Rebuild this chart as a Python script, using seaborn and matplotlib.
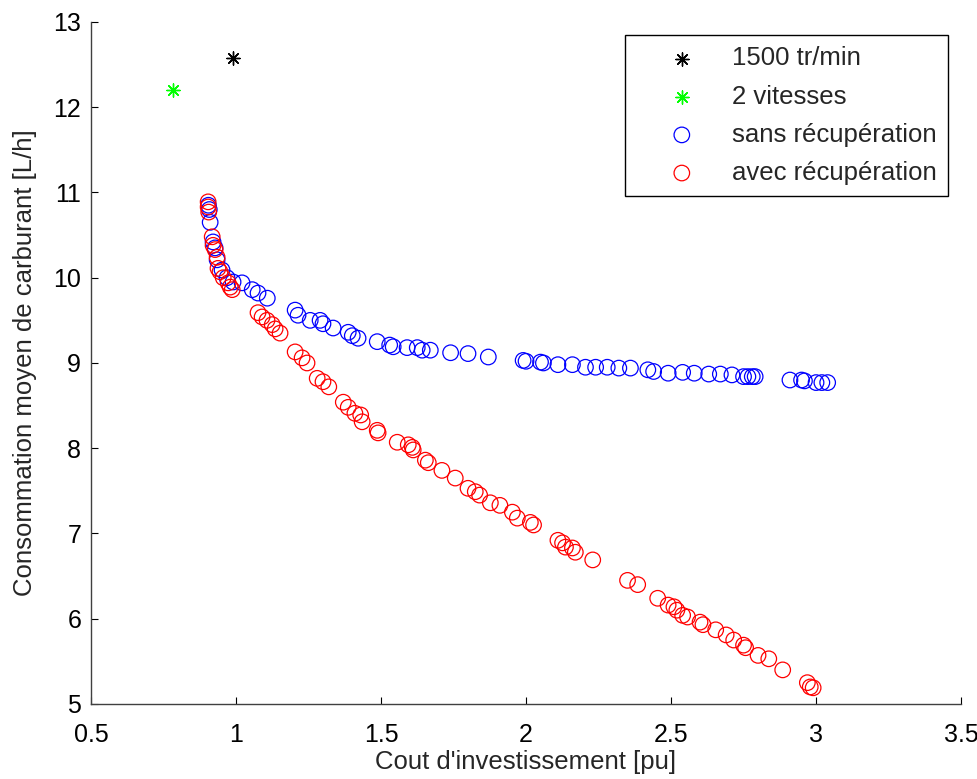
import numpy as np
import pandas as pd
import seaborn as sns
import matplotlib
matplotlib.use("Agg")
import matplotlib.pyplot as plt

# points isoles
ref_x = [0.99]
ref_y = [12.58]
deux_x = [0.783]
deux_y = [12.20]

# sans recuperation (bleu)
sans_x = [0.905, 0.908, 0.911, 0.921, 0.928, 0.935, 0.952, 0.969, 0.990, 1.021, 1.056, 1.076, 1.108,
          1.204, 1.214, 1.256, 1.290, 1.300, 1.335, 1.387, 1.401, 1.421, 1.487, 1.530, 1.542, 1.590,
          1.625, 1.642, 1.670, 1.740, 1.800, 1.870, 1.990,
          2.000, 2.050, 2.060, 2.110, 2.160, 2.205, 2.240, 2.280, 2.320, 2.360, 2.420, 2.440, 2.490,
          2.540, 2.580, 2.630, 2.670, 2.710, 2.750, 2.765, 2.780, 2.790, 2.910, 2.950, 2.960, 3.000,
          3.020, 3.040]
sans_y = [10.85, 10.80, 10.65, 10.42, 10.35, 10.21, 10.09, 10.00, 9.95, 9.94, 9.86, 9.82, 9.76,
          9.62, 9.56, 9.50, 9.50, 9.46, 9.41, 9.36, 9.32, 9.29, 9.25, 9.21, 9.19, 9.18,
          9.18, 9.15, 9.15, 9.12, 9.11, 9.07, 9.03,
          9.02, 9.01, 9.00, 8.98, 8.98, 8.95, 8.95, 8.95, 8.94, 8.94, 8.92, 8.90, 8.88,
          8.89, 8.88, 8.87, 8.87, 8.86, 8.84, 8.84, 8.84, 8.84, 8.80, 8.80, 8.79, 8.77,
          8.77, 8.77]

# avec recuperation (rouge)
avec_x = [0.904, 0.904, 0.906, 0.918, 0.921, 0.928, 0.935, 0.938, 0.945, 0.956, 0.973, 0.980, 0.987,
          1.076, 1.090, 1.107, 1.125, 1.135, 1.152,
          1.204, 1.228, 1.245, 1.280, 1.300, 1.320, 1.370, 1.387, 1.410, 1.430, 1.435, 1.487, 1.490,
          1.556, 1.594, 1.608, 1.611, 1.653, 1.663, 1.710, 1.756, 1.800, 1.825, 1.840, 1.877, 1.910,
          1.953, 1.970, 2.015, 2.026, 2.110, 2.126, 2.136, 2.160, 2.170, 2.230, 2.350, 2.385, 2.454,
          2.490, 2.510, 2.520, 2.540, 2.557, 2.600, 2.610, 2.654, 2.690, 2.716, 2.750, 2.757, 2.800,
          2.837, 2.885, 2.970, 2.980, 2.990]
avec_y = [10.89, 10.83, 10.77, 10.48, 10.38, 10.33, 10.24, 10.11, 10.07, 10.00, 9.94, 9.89, 9.86,
          9.59, 9.54, 9.50, 9.45, 9.40, 9.35,
          9.13, 9.06, 9.00, 8.82, 8.78, 8.72, 8.54, 8.48, 8.41, 8.39, 8.31, 8.21, 8.18,
          8.07, 8.04, 8.01, 7.98, 7.86, 7.83, 7.74, 7.65, 7.53, 7.49, 7.45, 7.36, 7.33,
          7.25, 7.18, 7.13, 7.10, 6.92, 6.89, 6.84, 6.83, 6.78, 6.69, 6.45, 6.40, 6.24,
          6.16, 6.14, 6.10, 6.04, 6.02, 5.96, 5.93, 5.87, 5.81, 5.75, 5.69, 5.66, 5.57,
          5.53, 5.40, 5.25, 5.20, 5.19]

sns.set_style("ticks")
plt.rcParams['font.family'] = ['Liberation Sans', 'DejaVu Sans']

fig = plt.figure(figsize=(9.78, 7.79), dpi=100)
ax = fig.add_axes([0.093, 0.0963, 0.8897, 0.8755])

asterisk = (8, 2, 0)
sns.scatterplot(x=ref_x, y=ref_y, marker=asterisk, s=90, color="black", linewidth=1.0,
                label="1500 tr/min", ax=ax)
sns.scatterplot(x=deux_x, y=deux_y, marker=asterisk, s=90, color="#00ff00", linewidth=1.0,
                label="2 vitesses", ax=ax)
sns.scatterplot(x=sans_x, y=sans_y, marker="o", s=125, facecolor="none", edgecolor="blue",
                linewidth=0.9, label="sans récupération", ax=ax)
sns.scatterplot(x=avec_x, y=avec_y, marker="o", s=125, facecolor="none", edgecolor="red",
                linewidth=0.9, label="avec récupération", ax=ax)

ax.set_xlim(0.5, 3.5)
ax.set_ylim(5, 13)
ax.set_xticks([0.5, 1, 1.5, 2, 2.5, 3, 3.5])
ax.set_xticklabels(["0.5", "1", "1.5", "2", "2.5", "3", "3.5"])
ax.set_yticks(range(5, 14))
ax.tick_params(direction="in", length=5, labelsize=18, colors="black")
ax.tick_params(axis="x", pad=14)
ax.tick_params(axis="y", pad=7)
for s in ["top", "right"]:
    ax.spines[s].set_visible(False)
for s in ["left", "bottom"]:
    ax.spines[s].set_color("#404040")
    ax.spines[s].set_linewidth(1.0)

ax.set_xlabel("Cout d'investissement [pu]", fontsize=18.5, labelpad=2)
ax.set_ylabel("Consommation moyen de carburant [L/h]", fontsize=18.5, labelpad=12)

leg = ax.legend(loc="upper right", fontsize=18.5, frameon=True, fancybox=False,
                edgecolor="black", borderaxespad=0.5, handletextpad=0.2,
                labelspacing=0.55, borderpad=0.45, handlelength=3.5)
leg.get_frame().set_linewidth(1.0)
leg.get_frame().set_alpha(1)

fig.savefig("out.png", dpi=100)
